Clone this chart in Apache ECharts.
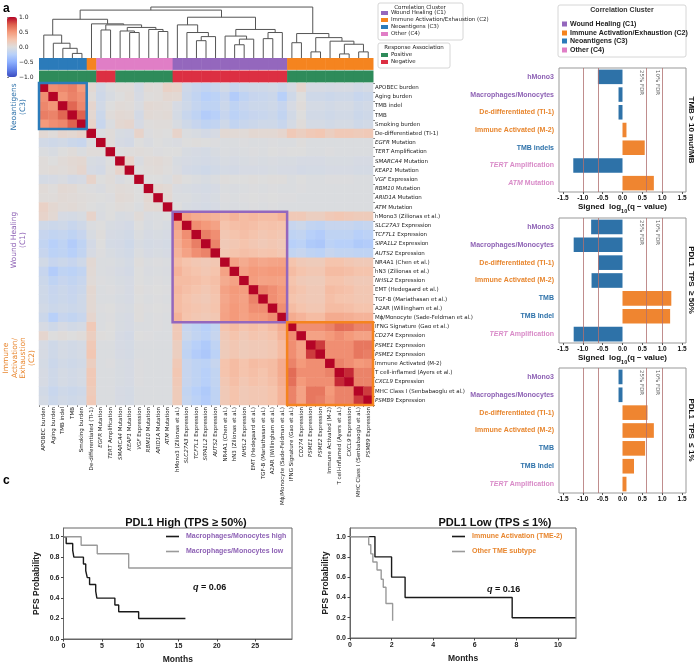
<!DOCTYPE html>
<html>
<head>
<meta charset="utf-8">
<script src="https://cdn.jsdelivr.net/npm/echarts@6/dist/echarts.min.js"></script>
<style>
html, body { margin: 0; padding: 0; background: #fff; }
#chart { width: 695px; height: 665px; }
</style>
</head>
<body>
<div id="chart"></div>
<script>
// ---- panel a: correlation heatmap data ----
const leafNames = [
  'APOBEC burden', 'Aging burden', 'TMB indel', 'TMB', 'Smoking burden',
  'De-differentiated (TI-1)', 'EGFR Mutation', 'TERT Amplification', 'SMARCA4 Mutation',
  'KEAP1 Mutation', 'VGF Expression', 'RBM10 Mutation', 'ARID1A Mutation', 'ATM Mutation',
  'hMono3 (Zilionas et al.)', 'SLC27A3 Expression', 'TCF7L1 Expression', 'SIPA1L2 Expression',
  'AUTS2 Expression', 'NR4A1 (Chen et al.)', 'hN3 (Zilionas et al.)', 'NHSL2 Expression',
  'EMT (Hedegaard et al.)', 'TGF-B (Mariathasan et al.)', 'A2AR (Willingham et al.)',
  'M\u03d5/Monocyte (Sade-Feldman et al.)', 'IFNG Signature (Gao et al.)', 'CD274 Expression',
  'PSME1 Expression', 'PSME2 Expression', 'Immune Activated (M-2)', 'T cell-inflamed (Ayers et al.)',
  'CXCL9 Expression', 'MHC Class I (Senbabaoglu et al.)', 'PSMB9 Expression'
];
const leafCluster = [
  'C3','C3','C3','C3','C3','C2','C4','C4','C4','C4','C4','C4','C4','C4',
  'C1','C1','C1','C1','C1','C1','C1','C1','C1','C1','C1','C1',
  'C2','C2','C2','C2','C2','C2','C2','C2','C2'
];
const leafResponse = [
  'P','P','P','P','P','P','N','N','P','P','P','P','P','P',
  'N','N','N','N','N','N','N','N','N','N','N','N',
  'P','P','P','P','P','P','P','P','P'
];
const italicGenes = ['EGFR','TERT','SMARCA4','KEAP1','VGF','RBM10','ARID1A','ATM','SLC27A3','TCF7L1',
  'SIPA1L2','AUTS2','NHSL2','CD274','PSME1','PSME2','CXCL9','PSMB9'];

// lower triangle of the correlation matrix (row i holds columns 0..i)
const corrLower = [
  [1],
  [.55,1],
  [.58,.52,1],
  [.62,.6,.72,1],
  [.5,.55,.58,.74,1],
  [.05,.02,.08,.06,.1,1],
  [-.08,-.1,-.08,-.12,-.14,-.02,1],
  [-.02,-.04,0,.02,-.02,.02,.02,1],
  [.02,0,.03,.05,.06,-.04,-.05,0,1],
  [.02,.03,.02,.04,.08,-.05,-.07,.01,.1,1],
  [-.06,-.05,-.03,-.07,-.05,.1,0,.02,-.03,0,1],
  [.03,.01,.05,.04,.01,-.01,-.03,.01,.03,.02,0,1],
  [.02,.02,.04,.03,.02,.01,0,-.01,.04,.03,0,.06,1],
  [.12,.06,.03,.04,.02,0,-.02,0,.02,.01,-.02,.04,.05,1],
  [.1,.05,-.05,-.06,-.04,.1,-.03,0,-.04,-.03,.03,-.03,-.02,0,1],
  [-.1,-.12,-.1,-.14,-.1,-.02,0,-.04,-.05,-.07,0,-.04,-.02,-.04,.45,1],
  [-.15,-.18,-.16,-.2,-.15,-.04,.01,-.05,-.06,-.08,-.02,-.05,-.04,-.05,.4,.55,1],
  [-.18,-.25,-.2,-.28,-.2,-.07,0,-.06,-.07,-.1,-.04,-.06,-.05,-.06,.38,.5,.62,1],
  [-.15,-.22,-.2,-.25,-.18,-.05,-.01,-.04,-.06,-.08,-.02,-.05,-.04,-.05,.35,.45,.55,.6,1],
  [-.08,-.15,-.12,-.15,-.1,.05,-.02,-.02,-.04,-.06,.01,-.02,-.01,-.02,.3,.25,.22,.2,.22,1],
  [-.15,-.28,-.2,-.22,-.18,.04,-.02,-.03,-.05,-.07,0,-.03,-.02,-.03,.35,.28,.25,.22,.25,.45,1],
  [-.12,-.2,-.15,-.18,-.14,.03,-.01,-.02,-.04,-.05,0,-.02,-.01,-.02,.3,.3,.28,.25,.28,.4,.45,1],
  [-.1,-.15,-.12,-.15,-.12,.06,-.02,-.01,-.03,-.05,.01,-.01,0,-.01,.32,.28,.25,.22,.26,.45,.5,.48,1],
  [-.1,-.14,-.12,-.14,-.1,.05,-.02,-.02,-.04,-.05,0,-.02,-.01,-.02,.3,.25,.22,.2,.24,.42,.48,.45,.6,1],
  [-.08,-.12,-.1,-.12,-.1,.05,-.01,0,-.03,-.04,.01,-.01,0,-.01,.3,.26,.24,.22,.25,.44,.5,.46,.55,.55,1],
  [-.12,-.25,-.15,-.18,-.14,.08,-.02,-.01,-.04,-.05,.01,-.02,-.01,-.02,.35,.25,.22,.2,.22,.45,.5,.45,.5,.5,.55,1],
  [-.05,-.1,-.05,-.08,-.06,.2,-.02,0,-.04,-.05,-.02,-.02,-.01,-.02,.2,-.15,-.2,-.25,-.18,.25,.3,.25,.28,.25,.3,.4,1],
  [.08,0,.02,0,.02,.15,.01,0,-.05,-.07,0,-.01,-.02,-.02,.2,-.12,-.18,-.22,-.15,.2,.25,.2,.24,.22,.25,.35,.55,1],
  [-.05,-.1,-.06,-.08,-.06,.2,-.02,-.02,-.05,-.06,-.02,-.02,-.02,-.02,.15,-.18,-.25,-.3,-.2,.18,.22,.18,.2,.2,.22,.3,.55,.45,1],
  [-.05,-.1,-.06,-.08,-.06,.22,-.02,-.02,-.05,-.06,-.02,-.02,-.02,-.02,.15,-.2,-.28,-.32,-.22,.18,.22,.18,.2,.2,.22,.3,.55,.45,.85,1],
  [-.06,-.12,-.08,-.1,-.08,.15,-.02,-.01,-.04,-.05,-.01,-.02,-.02,-.02,.2,-.15,-.2,-.22,-.15,.25,.3,.25,.3,.28,.3,.4,.6,.5,.55,.55,1],
  [-.05,-.1,-.06,-.08,-.06,.2,-.02,-.02,-.04,-.05,-.01,-.02,-.02,-.02,.22,-.15,-.2,-.25,-.18,.25,.3,.25,.28,.25,.3,.4,.7,.55,.55,.55,.6,1],
  [-.05,-.1,-.06,-.08,-.06,.2,-.02,-.02,-.04,-.05,-.01,-.02,-.02,-.02,.2,-.15,-.2,-.25,-.18,.22,.28,.22,.26,.24,.28,.38,.68,.5,.55,.55,.55,.9,1],
  [-.08,-.14,-.1,-.12,-.1,.18,-.02,-.02,-.05,-.06,-.02,-.02,-.02,-.02,.18,-.18,-.25,-.3,-.2,.2,.25,.2,.22,.22,.25,.35,.6,.45,.65,.65,.5,.6,.6,1],
  [-.06,-.12,-.08,-.1,-.08,.2,-.02,-.02,-.05,-.06,-.02,-.02,-.02,-.02,.18,-.16,-.22,-.28,-.2,.2,.25,.2,.22,.22,.25,.35,.6,.45,.65,.62,.52,.6,.6,.85,1]
];

// dendrogram merges: [child a, child b, height]; leaves 0..34, merge k is node 35+k
const linkage = [
  [3,4,0.09],[2,35,0.19],[1,36,0.29],[0,37,0.45],
  [6,7,0.55],[9,10,0.5],[8,40,0.53],[12,13,0.52],[11,42,0.56],[41,43,0.6],[39,44,0.65],[5,45,0.67],
  [38,46,0.76],
  [16,17,0.34],[48,18,0.42],[15,49,0.5],[14,50,0.65],
  [20,21,0.26],[52,22,0.37],[19,53,0.43],[23,24,0.38],[55,25,0.5],[54,56,0.56],
  [51,57,0.8],[47,58,0.94],
  [26,27,0.3],[28,29,0.12],[31,32,0.08],[33,34,0.12],[62,63,0.27],[30,64,0.33],[61,65,0.4],[60,66,0.48],
  [59,67,1.0]
];

// cluster boxes drawn on the heatmap: [first leaf, last leaf, cluster]
const clusterBoxes = [[0,4,'C3'],[14,25,'C1'],[26,34,'C2']];

// ---- panel b: signed log10(q) bars ----
const barCats1 = ['hMono3','Macrophages/Monocytes','De-differentiated (TI-1)','Immune Activated (M-2)','TMB indels','TERT Amplification','ATM Mutation'];
const barClus1 = ['C1','C1','C2','C2','C3','C4','C4'];
const barVals1 = [-0.62,-0.1,-0.1,0.1,0.56,-1.24,0.79];
const barCats2 = ['hMono3','Macrophages/Monocytes','De-differentiated (TI-1)','Immune Activated (M-2)','TMB','TMB Indel','TERT Amplification'];
const barClus2 = ['C1','C1','C2','C2','C3','C3','C4'];
const barVals2 = [-0.79,-1.23,-0.61,-0.78,1.23,1.2,-1.23];
const barCats3 = barCats2;
const barClus3 = barClus2;
const barVals3 = [-0.1,-0.1,0.63,0.79,0.57,0.29,0.1];
const barTicks = [-1.5,-1.0,-0.5,0,0.5,1.0,1.5];
const fdrLines = [-1, -0.602, 0.602, 1];
const fdrNames = {'0.602':'25% FDR', '1':'10% FDR'};

// ---- panel c: Kaplan-Meier curves ----
const kmHighT = [0,0.35,1.2,1.35,2.6,2.9,3.1,3.4,4.2,4.35,6.7,7.2,9.8,15.9];
const kmHighS = [1,0.933,0.867,0.8,0.733,0.667,0.6,0.533,0.467,0.4,0.333,0.267,0.2,0.2];
const kmLowT = [0,2.3,4.4,8.5,29.8];
const kmLowS = [1,0.917,0.833,0.694,0.694];
const kmTmeT = [0,1.2,2.0,2.65,7.8,10.85];
const kmTmeS = [1,0.8,0.6,0.4,0.2,0.2];
const kmOtherT = [0,0.9,1.0,1.1,1.3,1.5,1.6,1.73,2.05,2.05];
const kmOtherS = [1,0.92,0.83,0.75,0.67,0.58,0.5,0.34,0.34,0.17];
const kmYTicks = [0,0.2,0.4,0.6,0.8,1.0];
const kmXTicksLeft = [0,5,10,15,20,25];
const kmXTicksRight = [0,2,4,6,8,10];

// ---- styling ----
const coolwarm = ['#3b4cc0','#6282ea','#8db0fe','#b8d0f9','#dddddd','#f5c4ad','#f49a7b','#de604d','#b40426'];
const clusterColor = {C1:'#9467bd', C2:'#f5841f', C3:'#2b7bba', C4:'#e07ec6'};
const responseColor = {P:'#2e8b5a', N:'#dc2f42'};
const labelColor = {C1:'#8e62b5', C2:'#e8862e', C3:'#2e72aa', C4:'#d98bc8'};
const barPos = '#ef8530', barNeg = '#2e72a8';
const mpl = 'DejaVu Sans';
const arial = 'Liberation Sans';

const n = leafNames.length;
const corr = [];
for (let i = 0; i < n; i++) {
  corr.push([]);
  for (let j = 0; j < n; j++) corr[i].push(i >= j ? corrLower[i][j] : corrLower[j][i]);
}
const heatData = [];
for (let i = 0; i < n; i++) for (let j = 0; j < n; j++) heatData.push([j, i, corr[i][j]]);

// node positions for the dendrogram
const nodeX = [], nodeH = [];
for (let i = 0; i < n; i++) { nodeX.push(i + 0.5); nodeH.push(0); }
linkage.forEach(l => { nodeX.push((nodeX[l[0]] + nodeX[l[1]]) / 2); nodeH.push(l[2]); });

function geneLabel(name) {
  const first = name.split(' ')[0];
  if (italicGenes.indexOf(first) >= 0) return '{i|' + first + '}' + name.slice(first.length);
  return name;
}

function barLabel(clus) {
  return (name, idx) => {
    const c = clus[idx];
    const first = name.split(' ')[0];
    if (italicGenes.indexOf(first) >= 0) return '{' + c + 'i|' + first + '}{' + c + '|' + name.slice(first.length) + '}';
    return '{' + c + '|' + name + '}';
  };
}
const barRich = {};
Object.keys(labelColor).forEach(c => {
  barRich[c] = {color: labelColor[c], fontWeight: 'bold', fontSize: 7, fontFamily: arial};
  barRich[c + 'i'] = {color: labelColor[c], fontWeight: 'bold', fontStyle: 'italic', fontSize: 7, fontFamily: arial};
});

const barTops = [68, 218, 368];
const barSets = [[barCats1, barClus1, barVals1], [barCats2, barClus2, barVals2], [barCats3, barClus3, barVals3]];

const grids = [
  {left: 7, top: 17, width: 10, height: 60},          // 0 colorbar axis
  {left: 39, top: 5, width: 334, height: 53},         // 1 dendrogram
  {left: 39, top: 58, width: 334, height: 25},        // 2 annotation bars
  {left: 39, top: 83, width: 334, height: 322},       // 3 heatmap
  {left: 559, top: barTops[0], width: 127, height: 124, show: true, borderColor: '#999', borderWidth: 1},
  {left: 559, top: barTops[1], width: 127, height: 125, show: true, borderColor: '#999', borderWidth: 1},
  {left: 559, top: barTops[2], width: 127, height: 125, show: true, borderColor: '#999', borderWidth: 1},
  {left: 63.5, top: 528, width: 228.5, height: 114, show: true, borderColor: '#666', borderWidth: 1},
  {left: 350, top: 528, width: 226, height: 110, show: true, borderColor: '#666', borderWidth: 1}
];

const xAxes = [
  {gridIndex: 0, type: 'value', show: false, min: 0, max: 1},
  {gridIndex: 1, type: 'value', show: false, min: 0, max: n},
  {gridIndex: 2, type: 'category', show: false, data: leafNames},
  {gridIndex: 3, type: 'category', data: leafNames, position: 'bottom',
    axisLine: {show: false}, axisTick: {show: true, length: 2, lineStyle: {color: '#333', width: 0.6}},
    axisLabel: {rotate: 90, fontSize: 5.5, fontFamily: mpl, color: '#222', margin: 2, interval: 0,
      formatter: geneLabel, rich: {i: {fontStyle: 'italic', fontSize: 5.5, fontFamily: mpl, color: '#222'}}}}
];
const yAxes = [
  {gridIndex: 0, type: 'value', position: 'right', min: -1, max: 1, interval: 0.5,
    axisLine: {show: false}, splitLine: {show: false},
    axisTick: {show: true, length: 2, lineStyle: {color: '#333', width: 0.6}},
    axisLabel: {fontSize: 6, fontFamily: mpl, color: '#222', margin: 2,
      formatter: v => v.toFixed(1).replace('-', '\u2212')}},
  {gridIndex: 1, type: 'value', show: false, min: 0, max: 1.04},
  {gridIndex: 2, type: 'category', show: false, inverse: true, data: ['cluster', 'response']},
  {gridIndex: 3, type: 'category', data: leafNames, inverse: true, position: 'right',
    axisLine: {show: false}, axisTick: {show: true, length: 2, lineStyle: {color: '#333', width: 0.6}},
    axisLabel: {fontSize: 5.5, fontFamily: mpl, color: '#222', margin: 2, interval: 0,
      formatter: geneLabel, rich: {i: {fontStyle: 'italic', fontSize: 5.5, fontFamily: mpl, color: '#222'}}}}
];

const nameRich = {
  b: {fontWeight: 'bold', fontSize: 8, fontFamily: arial, color: '#111', verticalAlign: 'top', lineHeight: 11},
  s: {fontWeight: 'bold', fontSize: 5.5, fontFamily: arial, color: '#111', verticalAlign: 'bottom', lineHeight: 11}
};
barSets.forEach((s, k) => {
  xAxes.push({gridIndex: 4 + k, type: 'value', min: -1.6, max: 1.6,
    name: k === 0 || k === 1 ? '{b|Signed  log}{s|10}{b|(q \u2212 value)}' : '',
    nameLocation: 'middle', nameGap: 11,
    nameTextStyle: {fontWeight: 'bold', fontSize: 8, fontFamily: arial, color: '#111', rich: nameRich},
    axisLine: {show: false}, splitLine: {show: false},
    axisTick: {show: true, length: 2, customValues: barTicks, lineStyle: {color: '#555'}},
    axisLabel: {fontSize: 6.5, fontWeight: 'bold', fontFamily: arial, color: '#111', margin: 3,
      customValues: barTicks, formatter: v => v.toFixed(1)}});
  yAxes.push({gridIndex: 4 + k, type: 'category', inverse: true, data: s[0],
    axisLine: {show: false}, axisTick: {show: false},
    axisLabel: {margin: 5, formatter: barLabel(s[1]), rich: barRich}});
});

const kmAxisLabel = {fontSize: 7, fontWeight: 'bold', fontFamily: arial, color: '#222', margin: 4};
xAxes.push({gridIndex: 7, type: 'value', min: 0, max: 29.8, name: 'Months', nameLocation: 'middle', nameGap: 16,
  nameTextStyle: {fontWeight: 'bold', fontSize: 8.5, fontFamily: arial, color: '#222'},
  axisLine: {lineStyle: {color: '#666'}}, splitLine: {show: false},
  axisTick: {length: 2.5, customValues: kmXTicksLeft, lineStyle: {color: '#444'}},
  axisLabel: Object.assign({customValues: kmXTicksLeft}, kmAxisLabel)});
yAxes.push({gridIndex: 7, type: 'value', min: 0, max: 1.085, name: 'PFS Probability', nameLocation: 'middle', nameGap: 22,
  nameTextStyle: {fontWeight: 'bold', fontSize: 8.5, fontFamily: arial, color: '#222'},
  axisLine: {show: true, lineStyle: {color: '#666'}}, splitLine: {show: false},
  axisTick: {show: true, length: 2.5, customValues: kmYTicks, lineStyle: {color: '#444'}},
  axisLabel: Object.assign({customValues: kmYTicks, formatter: v => v.toFixed(1)}, kmAxisLabel)});
xAxes.push({gridIndex: 8, type: 'value', min: 0, max: 10.87, name: 'Months', nameLocation: 'middle', nameGap: 16,
  nameTextStyle: {fontWeight: 'bold', fontSize: 8.5, fontFamily: arial, color: '#222'},
  axisLine: {lineStyle: {color: '#666'}}, splitLine: {show: false},
  axisTick: {length: 2.5, customValues: kmXTicksRight, lineStyle: {color: '#444'}},
  axisLabel: Object.assign({customValues: kmXTicksRight}, kmAxisLabel)});
yAxes.push({gridIndex: 8, type: 'value', min: 0, max: 1.085, name: 'PFS Probability', nameLocation: 'middle', nameGap: 20,
  nameTextStyle: {fontWeight: 'bold', fontSize: 8.5, fontFamily: arial, color: '#222'},
  axisLine: {show: true, lineStyle: {color: '#666'}}, splitLine: {show: false},
  axisTick: {show: true, length: 2.5, customValues: kmYTicks, lineStyle: {color: '#444'}},
  axisLabel: Object.assign({customValues: kmYTicks, formatter: v => v.toFixed(1)}, kmAxisLabel)});

const series = [
  {type: 'heatmap', xAxisIndex: 3, yAxisIndex: 3, data: heatData, silent: true, itemStyle: {borderWidth: 0}},
  {type: 'custom', xAxisIndex: 1, yAxisIndex: 1, silent: true, clip: false,
    data: linkage.map((l, k) => [nodeX[n + k], l[2]]),
    renderItem: (params, api) => {
      const l = linkage[params.dataIndex];
      const a = l[0], b = l[1], h = l[2];
      const pts = [[nodeX[a], nodeH[a]], [nodeX[a], h], [nodeX[b], h], [nodeX[b], nodeH[b]]].map(p => api.coord(p));
      return {type: 'polyline', shape: {points: pts}, style: {stroke: '#555', fill: null, lineWidth: 1}};
    }},
  {type: 'custom', xAxisIndex: 2, yAxisIndex: 2, silent: true,
    data: leafNames.map((_, i) => [i, 0]).concat(leafNames.map((_, i) => [i, 1])),
    renderItem: (params, api) => {
      const i = params.dataIndex % n, row = params.dataIndex < n ? 0 : 1;
      const c = api.coord([i, row]), s = api.size([1, 1]);
      const col = row === 0 ? clusterColor[leafCluster[i]] : responseColor[leafResponse[i]];
      return {type: 'rect', shape: {x: c[0] - s[0] / 2, y: c[1] - s[1] / 2, width: s[0] + 0.5, height: s[1] - 0.6},
        style: {fill: col}};
    }},
  {type: 'custom', xAxisIndex: 3, yAxisIndex: 3, silent: true, z: 5, clip: false,
    data: clusterBoxes.map(b => [b[0], b[0]]),
    renderItem: (params, api) => {
      const b = clusterBoxes[params.dataIndex];
      const c = api.coord([b[0], b[0]]), s = api.size([1, 1]);
      const k = b[1] - b[0] + 1;
      return {type: 'rect', shape: {x: c[0] - s[0] / 2, y: c[1] - s[1] / 2, width: s[0] * k, height: s[1] * k},
        style: {fill: null, stroke: clusterColor[b[2]], lineWidth: 2.5}};
    }}
];

barSets.forEach((s, k) => {
  series.push({type: 'bar', xAxisIndex: 4 + k, yAxisIndex: 4 + k, data: s[2], barWidth: '82%', silent: true,
    itemStyle: {color: p => p.value < 0 ? barNeg : barPos},
    markLine: {silent: true, symbol: 'none',
      lineStyle: {color: '#b07070', width: 0.8, type: 'solid'},
      data: fdrLines.map(v => ({xAxis: v,
        label: {show: !!fdrNames[String(v)], formatter: fdrNames[String(v)] || '', position: 'insideStartBottom',
          fontSize: 5.5, fontFamily: mpl, color: '#666', distance: 2}}))}});
});

const kmLine = (name, xi, T, S, color, w) => ({type: 'line', name: name, xAxisIndex: xi, yAxisIndex: xi,
  data: T.map((t, i) => [t, S[i]]), step: 'end', symbol: 'none', silent: true,
  lineStyle: {color: color, width: w}, itemStyle: {color: color}});
series.push(kmLine('Macrophages/Monocytes high', 7, kmHighT, kmHighS, '#1a1a1a', 1.4));
series.push(kmLine('Macrophages/Monocytes low', 7, kmLowT, kmLowS, '#9a9a9a', 1.4));
series.push(kmLine('Immune Activation (TME-2)', 8, kmTmeT, kmTmeS, '#1a1a1a', 1.4));
series.push(kmLine('Other TME subtype', 8, kmOtherT, kmOtherS, '#9a9a9a', 1.4));

// ---- legends / annotations ----
const g = [];
function txt(x, y, text, opt) {
  const o = Object.assign({fontSize: 6, fontFamily: mpl, fill: '#222', fontWeight: 'normal',
    align: 'left', verticalAlign: 'middle'}, opt || {});
  return {type: 'text', x: x, y: y, rotation: o.rotation || 0, silent: true,
    style: {text: text, fill: o.fill, fontSize: o.fontSize, fontFamily: o.fontFamily, fontWeight: o.fontWeight,
      align: o.align, verticalAlign: o.verticalAlign, textAlign: o.align, textVerticalAlign: o.verticalAlign,
      lineHeight: o.lineHeight, rich: o.rich}};
}
function box(x, y, w, h) {
  return {type: 'rect', silent: true, shape: {x: x, y: y, width: w, height: h, r: 2},
    style: {fill: '#fff', stroke: '#ccc', lineWidth: 0.8}};
}
// panel letters
g.push(txt(3, 9, 'a', {fontSize: 12, fontWeight: 'bold', fontFamily: arial, fill: '#000'}));
g.push(txt(444, 9, 'b', {fontSize: 12, fontWeight: 'bold', fontFamily: arial, fill: '#000'}));
g.push(txt(3, 481, 'c', {fontSize: 12, fontWeight: 'bold', fontFamily: arial, fill: '#000'}));
// panel a legends
const clusterLegend = [['C1','Wound Healing (C1)'],['C2','Immune Activation/Exhaustion (C2)'],['C3','Neoantigens (C3)'],['C4','Other (C4)']];
g.push(box(378, 3, 85, 37));
g.push(txt(420, 8, 'Correlation Cluster', {align: 'center', fontSize: 5.5}));
clusterLegend.forEach((c, i) => {
  g.push({type: 'rect', silent: true, shape: {x: 381, y: 13 + i * 7 - 2, width: 7, height: 4}, style: {fill: clusterColor[c[0]]}});
  g.push(txt(391, 13 + i * 7, c[1], {fontSize: 5.5}));
});
g.push(box(378, 43, 72, 25));
g.push(txt(414, 48, 'Response Association', {align: 'center', fontSize: 5.5}));
[['P','Positive'],['N','Negative']].forEach((r, i) => {
  g.push({type: 'rect', silent: true, shape: {x: 381, y: 55 + i * 7 - 2, width: 7, height: 4}, style: {fill: responseColor[r[0]]}});
  g.push(txt(391, 55 + i * 7, r[1], {fontSize: 5.5}));
});
// cluster labels beside the heatmap
g.push(txt(19, 107, 'Neoantigens\n(C3)', {rotation: Math.PI / 2, align: 'center', fontSize: 7.5, lineHeight: 9, fill: labelColor.C3}));
g.push(txt(19, 240, 'Wound Healing\n(C1)', {rotation: Math.PI / 2, align: 'center', fontSize: 7.5, lineHeight: 9, fill: labelColor.C1}));
g.push(txt(19, 358, 'Immune\nActivation/\nExhaustion\n(C2)', {rotation: Math.PI / 2, align: 'center', fontSize: 7.5, lineHeight: 8.5, fill: labelColor.C2}));
// panel b legend
g.push(box(558, 5, 128, 52));
g.push(txt(622, 10, 'Correlation Cluster', {align: 'center', fontSize: 7, fontWeight: 'bold', fontFamily: arial, fill: '#333'}));
clusterLegend.forEach((c, i) => {
  const y = [24, 33, 41, 50][i];
  g.push({type: 'rect', silent: true, shape: {x: 562, y: y - 2.5, width: 5, height: 5}, style: {fill: clusterColor[c[0]]}});
  g.push(txt(570, y, c[1], {fontSize: 7, fontWeight: 'bold', fontFamily: arial, fill: '#222'}));
});
// panel b side titles
const sideTitles = ['TMB > 10 mut/MB', 'PDL1  TPS  \u2265 50%', 'PDL1  TPS  \u2264 1%'];
sideTitles.forEach((t, k) => {
  g.push(txt(691, barTops[k] + 62, t, {rotation: -Math.PI / 2, align: 'center', fontSize: 8, fontWeight: 'bold', fontFamily: arial, fill: '#111'}));
});
// q values
const qRich = {i: {fontStyle: 'italic', fontWeight: 'bold', fontSize: 9, fontFamily: arial, fill: '#111'}};
g.push(txt(193, 588, '{i|q} = 0.06', {fontSize: 9, fontWeight: 'bold', fontFamily: arial, fill: '#111', rich: qRich}));
g.push(txt(487, 590, '{i|q} = 0.16', {fontSize: 9, fontWeight: 'bold', fontFamily: arial, fill: '#111', rich: qRich}));

const kmLegend = (names, left, color) => ({data: names.map(nm => ({name: nm, icon: 'rect'})),
  left: left, top: 533, orient: 'vertical', itemWidth: 13, itemHeight: 1.6, itemGap: 8, padding: 0,
  textStyle: {color: color, fontWeight: 'bold', fontSize: 7, fontFamily: arial, padding: [0, 0, 0, 2]}});

const option = {
  animation: false,
  backgroundColor: '#fff',
  title: [
    {text: 'PDL1 High (TPS \u2265 50%)', left: 181, top: 512, textAlign: 'center',
      textStyle: {fontSize: 11, fontWeight: 'bold', fontFamily: arial, color: '#111'}},
    {text: 'PDL1 Low (TPS \u2264 1%)', left: 490, top: 512, textAlign: 'center',
      textStyle: {fontSize: 11, fontWeight: 'bold', fontFamily: arial, color: '#111'}}
  ],
  legend: [
    kmLegend(['Macrophages/Monocytes high', 'Macrophages/Monocytes low'], 166, labelColor.C1),
    kmLegend(['Immune Activation (TME-2)', 'Other TME subtype'], 452, labelColor.C2)
  ],
  visualMap: {type: 'continuous', min: -1, max: 1, seriesIndex: 0, calculable: false, show: true,
    left: 7, top: 17, itemWidth: 10, itemHeight: 60, padding: 0, text: null, hoverLink: false,
    inRange: {color: coolwarm}},
  grid: grids,
  xAxis: xAxes,
  yAxis: yAxes,
  series: series,
  graphic: g
};

const chart = echarts.init(document.getElementById('chart'), null, {renderer: 'canvas', width: 695, height: 665});
chart.setOption(option);
</script>
</body>
</html>
